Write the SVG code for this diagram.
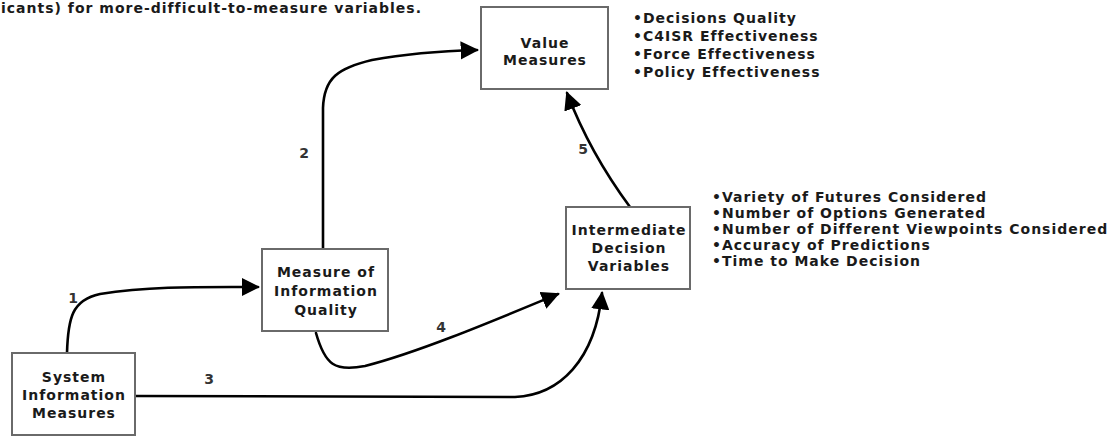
<svg xmlns="http://www.w3.org/2000/svg" width="1114" height="438" viewBox="0 0 1114 438">
<defs>
<style>
.box{fill:#fff;stroke:#6a6a6a;stroke-width:2}
.bt{font-family:"DejaVu Sans",Verdana,sans-serif;font-weight:bold;font-size:14px;letter-spacing:1px;fill:#1a1a1a;text-anchor:middle}
.lt{font-family:"DejaVu Sans",Verdana,sans-serif;font-weight:bold;font-size:14px;letter-spacing:1px;fill:#1a1a1a}
.num{font-family:"DejaVu Sans",Verdana,sans-serif;font-weight:bold;font-size:14px;fill:#333;text-anchor:middle}
.con{fill:none;stroke:#000;stroke-width:2.6;stroke-linecap:round}
</style>
<marker id="ah" viewBox="0 0 10 10" refX="9" refY="5" markerWidth="7" markerHeight="7" markerUnits="strokeWidth" orient="auto">
<path d="M0,0 L10,5 L0,10 z" fill="#000"/>
</marker>
</defs>
<rect width="1114" height="438" fill="#fff"/>
<text class="lt" x="1" y="13">icants) for more-difficult-to-measure variables.</text>
<g id="connectors">
<path class="con" marker-end="url(#ah)" d="M67,353 C68,318 72,300 100,294 C150,286 200,287 258,287"/>
<path class="con" marker-end="url(#ah)" d="M323,249 L323,108 C324,78 338,68 372,60 C410,53 440,51 477,50"/>
<path class="con" marker-end="url(#ah)" d="M135,396 L515,397 C560,395 595,360 602,293"/>
<path class="con" marker-end="url(#ah)" d="M316,333 C325,365 335,372 365,366 C420,352 500,318 558,294"/>
<path class="con" marker-end="url(#ah)" d="M630,207 C610,180 585,140 567,93"/>
<text class="num" x="73" y="303">1</text>
<text class="num" x="304" y="158">2</text>
<text class="num" x="209" y="384">3</text>
<text class="num" x="441" y="332">4</text>
<text class="num" x="583" y="154">5</text>
</g>
<g id="value">
<rect class="box" x="481" y="7" width="127" height="82"/>
<text class="bt" x="545" y="48">Value</text>
<text class="bt" x="545" y="65">Measures</text>
</g>
<g id="value-list">
<text class="lt" x="633" y="23">•Decisions Quality</text>
<text class="lt" x="633" y="41">•C4ISR Effectiveness</text>
<text class="lt" x="633" y="59">•Force Effectiveness</text>
<text class="lt" x="633" y="77">•Policy Effectiveness</text>
</g>
<g id="measure">
<rect class="box" x="262" y="249" width="126" height="82"/>
<text class="bt" x="326" y="277">Measure of</text>
<text class="bt" x="326" y="296">Information</text>
<text class="bt" x="326" y="315">Quality</text>
</g>
<g id="intermediate">
<rect class="box" x="566" y="207" width="124" height="82"/>
<text class="bt" x="629" y="235">Intermediate</text>
<text class="bt" x="629" y="253">Decision</text>
<text class="bt" x="629" y="271">Variables</text>
</g>
<g id="decision-list">
<text class="lt" x="712" y="202">•Variety of Futures Considered</text>
<text class="lt" x="712" y="218">•Number of Options Generated</text>
<text class="lt" x="712" y="234">•Number of Different Viewpoints Considered</text>
<text class="lt" x="712" y="250">•Accuracy of Predictions</text>
<text class="lt" x="712" y="266">•Time to Make Decision</text>
</g>
<g id="system">
<rect class="box" x="12" y="353" width="123" height="82"/>
<text class="bt" x="74" y="382">System</text>
<text class="bt" x="74" y="400">Information</text>
<text class="bt" x="74" y="418">Measures</text>
</g>
</svg>
